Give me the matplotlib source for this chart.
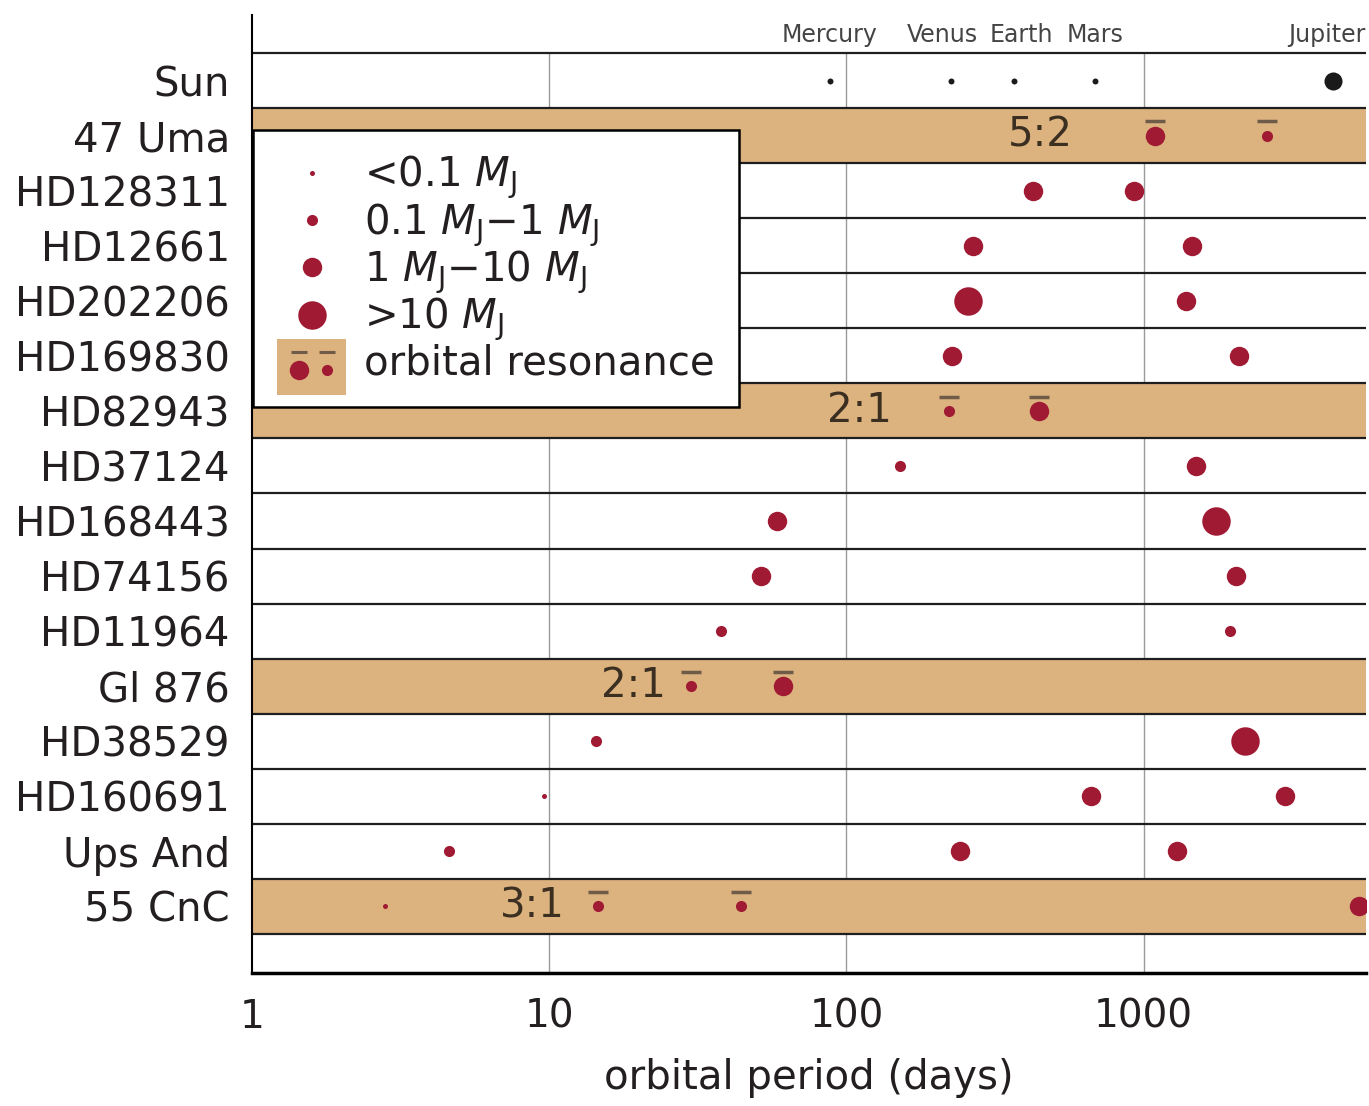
import matplotlib
matplotlib.use("Agg")
import numpy as np
import matplotlib.pyplot as plt
from matplotlib.lines import Line2D
from matplotlib.patches import Rectangle
from matplotlib.legend_handler import HandlerBase

# linhas (de cima para baixo) - a ultima fica vazia
stars = ["Sun", "47 Uma", "HD128311", "HD12661", "HD202206", "HD169830",
         "HD82943", "HD37124", "HD168443", "HD74156", "HD11964", "Gl 876",
         "HD38529", "HD160691", "Ups And", "55 CnC"]

# sistema solar
solar_names = ["Mercury", "Venus", "Earth", "Mars", "Jupiter"]
solar_periods = [88, 225, 365, 687, 4333]
solar_big = [False, False, False, False, True]

# planetas extrasolares: estrela, periodo (dias), classe de massa (0..3), ressonante?
planet_star = ["47 Uma", "47 Uma",
               "HD128311", "HD128311",
               "HD12661", "HD12661",
               "HD202206", "HD202206",
               "HD169830", "HD169830",
               "HD82943", "HD82943",
               "HD37124", "HD37124",
               "HD168443", "HD168443",
               "HD74156", "HD74156",
               "HD11964", "HD11964",
               "Gl 876", "Gl 876",
               "HD38529", "HD38529",
               "HD160691", "HD160691", "HD160691",
               "Ups And", "Ups And", "Ups And",
               "55 CnC", "55 CnC", "55 CnC", "55 CnC"]
planet_period = [1095, 2600,
                 423, 925,
                 266, 1450,
                 257, 1385,
                 227, 2100,
                 221, 445,
                 152, 1495,
                 58.6, 1750,
                 51.7, 2040,
                 37.9, 1950,
                 30.1, 61.0,
                 14.4, 2190,
                 9.6, 665, 3000,
                 4.6, 241, 1300,
                 2.8, 14.6, 44.3, 5300]
planet_mass = [2, 1,
               2, 2,
               2, 2,
               3, 2,
               2, 2,
               1, 2,
               1, 2,
               2, 3,
               2, 2,
               1, 1,
               1, 2,
               1, 3,
               0, 2, 2,
               1, 2, 2,
               0, 1, 1, 2]
planet_res = [True, True,
              False, False,
              False, False,
              False, False,
              False, False,
              True, True,
              False, False,
              False, False,
              False, False,
              False, False,
              True, True,
              False, False,
              False, False, False,
              False, False, False,
              False, True, True, False]

resonant_stars = ["47 Uma", "HD82943", "Gl 876", "55 CnC"]
resonance_ratio = ["5:2", "2:1", "2:1", "3:1"]
ratio_label_x = [450, 111, 19.2, 8.8]

mass_labels = [r"<0.1 $M_{\rm J}$", r"0.1 $M_{\rm J}$$-$1 $M_{\rm J}$",
               r"1 $M_{\rm J}$$-$10 $M_{\rm J}$", r">10 $M_{\rm J}$"]

tick_vals = [1, 10, 100, 1000]
tick_labels = ["1", "10", "100", "1000"]

# estilo
dot_col = "#a01a33"
band_col = "#dcb27e"
bar_col = "#6e5c48"
txt_col = "#231f20"
msizes = [3.6, 8, 14, 20.5]
xmin, xmax = 1, 5600
ytop, ybot = -1.19, 16.21
name_shift = [0, -9, 8, 0, 0]   # deslocamento (px) dos nomes p/ nao sobrepor

plt.rcParams["font.family"] = "DejaVu Sans"
fig = plt.figure(figsize=(13.69, 11.06), dpi=100)
ax = fig.add_axes([252 / 1369, 1 - 973 / 1106, 1114 / 1369, 958 / 1106])
ax.set_xscale("log")
ax.set_xlim(xmin, xmax)
ax.set_ylim(ybot, ytop)

row = {s: i for i, s in enumerate(stars)}

# linhas verticais de grade (so abaixo da linha do topo)
gfrac = (ybot + 0.5) / (ybot - ytop)
for v in tick_vals[1:]:
    ax.axvline(v, ymin=0, ymax=gfrac, color="#9a9a9a", lw=1.0, zorder=1)

# faixas de ressonancia
for s in resonant_stars:
    ax.axhspan(row[s] - 0.5, row[s] + 0.5, color=band_col, lw=0, zorder=2)

# separadores das linhas
for b in np.arange(-0.5, len(stars) + 0.5, 1.0):
    ax.axhline(b, color="#1e1e1e", lw=1.6, zorder=3)

# sol
for name, p, big, dx in zip(solar_names, solar_periods, solar_big, name_shift):
    ax.plot(p, 0, "o", color="#1a1a1a", ms=13 if big else 4.3, mec="none", zorder=5)
    if name == "Jupiter":
        ax.text(xmax * 0.995, -0.6, name, ha="right", va="bottom", fontsize=17, color="#444444")
    else:
        ax.annotate(name, (p, -0.6), xytext=(dx * 0.72, 0), textcoords="offset points",
                    ha="center", va="bottom", fontsize=17, color="#444444")

# planetas
for s, p, m, r in zip(planet_star, planet_period, planet_mass, planet_res):
    y = row[s]
    ax.plot(p, y, "o", color=dot_col, ms=msizes[m], mec="none", zorder=5)
    if r:
        ax.plot(p, y - 0.26, "_", color=bar_col, ms=14, mew=2.5, zorder=5)

for s, txt, xl in zip(resonant_stars, resonance_ratio, ratio_label_x):
    ax.text(xl, row[s], txt, ha="center", va="center", fontsize=29, color="#3b2f22", zorder=6)

# eixos
ax.set_xticks(tick_vals)
ax.set_xticklabels(tick_labels)
ax.xaxis.set_minor_locator(matplotlib.ticker.NullLocator())
ax.set_yticks(range(len(stars)))
ax.set_yticklabels(stars)
ax.tick_params(axis="x", length=0, pad=18, labelsize=28, labelcolor=txt_col)
ax.tick_params(axis="y", length=0, pad=16, labelsize=29, labelcolor=txt_col)
ax.set_xlabel("orbital period (days)", fontsize=29, color=txt_col, labelpad=16)
for sp in ["top", "right"]:
    ax.spines[sp].set_visible(False)
ax.spines["left"].set_linewidth(1.5)
ax.spines["bottom"].set_linewidth(2.5)
ax.spines["left"].set_zorder(7)
ax.spines["bottom"].set_zorder(7)


class ResonanceHandler(HandlerBase):
    # caixinha bege com dois planetas e as barrinhas de ressonancia
    def create_artists(self, legend, orig_handle, xdescent, ydescent, width, height, fontsize, trans):
        x0, y0 = -xdescent, -ydescent
        yc = y0 + height / 2 - 5
        box = Rectangle((x0, yc - 20), width, 40, facecolor=band_col, edgecolor="none", transform=trans)
        d1 = Line2D([x0 + 0.31 * width], [yc - 2], marker="o", ls="none", color=dot_col,
                    ms=msizes[2], mec="none", transform=trans)
        d2 = Line2D([x0 + 0.72 * width], [yc - 2], marker="o", ls="none", color=dot_col,
                    ms=msizes[1], mec="none", transform=trans)
        b = Line2D([x0 + 0.31 * width, x0 + 0.72 * width], [yc + 11, yc + 11], marker="_",
                   ls="none", color=bar_col, ms=12, mew=2.2, transform=trans)
        return [box, d1, d2, b]


handles = [Line2D([], [], marker="o", ls="none", color=dot_col, ms=msizes[i], mec="none")
           for i in range(4)]
res_handle = Rectangle((0, 0), 1, 1)
leg = ax.legend(handles + [res_handle], mass_labels + ["orbital resonance"],
                loc="upper left", bbox_to_anchor=(0.001, 0.88), borderaxespad=0,
                fontsize=29, handlelength=1.7, handletextpad=0.45, labelspacing=0.0,
                borderpad=0.6, fancybox=False, framealpha=1, edgecolor="black",
                handler_map={Rectangle: ResonanceHandler()})
leg.get_frame().set_linewidth(1.8)
leg.set_zorder(10)
for t in leg.get_texts():
    t.set_color(txt_col)

fig.savefig("out.png", dpi=100)
